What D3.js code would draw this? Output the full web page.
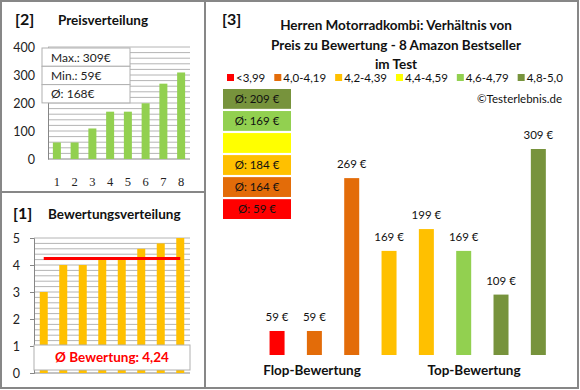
<!DOCTYPE html>
<html>
<head>
<meta charset="utf-8">
<script src="https://cdn.jsdelivr.net/npm/d3@7"></script>
<style>
  body { margin: 0; background: #fff; }
  svg { display: block; font-family: Lato, 'Noto Sans', sans-serif; }
</style>
</head>
<body>
<div id="chart"></div>
<script>
// --- data ---
const ranks = [1, 2, 3, 4, 5, 6, 7, 8]
const sortedPrices = [59, 59, 109, 169, 169, 199, 269, 309]
const priceTicks = [0, 100, 200, 300, 400]
const priceStats = ['Max.: 309€', 'Min.: 59€', 'Ø: 168€']
const ratings = [3.0, 4.0, 4.0, 4.2, 4.2, 4.6, 4.8, 5.0]
const ratingTicks = [0, 1, 2, 3, 4, 5]
const avgRating = 4.24
const avgRatingLabel = 'Ø Bewertung: 4,24'
const titleLines = ['Herren Motorradkombi: Verhältnis von', 'Preis zu Bewertung - 8 Amazon Bestseller', 'im Test']
const classLabels = ['<3,99', '4,0-4,19', '4,2-4,39', '4,4-4,59', '4,6-4,79', '4,8-5,0']
const classColors = ['#ff0000', '#e36c09', '#ffc000', '#ffff00', '#92d050', '#77933c']
const classAvgPrices = [59, 164, 184, null, 169, 209]
const productPrices = [59, 59, 269, 169, 199, 169, 109, 309]
const productClass = [0, 1, 1, 2, 2, 4, 5, 5]

const W = 580
const H = 390
const svg = d3.select('#chart').append('svg')
  .attr('width', W)
  .attr('height', H)

// frames
const frameColor = '#878787'
svg.append('rect')
  .attr('x', 1).attr('y', 1).attr('width', 577).attr('height', 387)
  .attr('fill', 'none').attr('stroke', frameColor).attr('stroke-width', 2)
svg.append('line')
  .attr('x1', 205).attr('x2', 205).attr('y1', 1).attr('y2', 388)
  .attr('stroke', frameColor).attr('stroke-width', 2)
svg.append('line')
  .attr('x1', 1).attr('x2', 205).attr('y1', 192).attr('y2', 192)
  .attr('stroke', frameColor).attr('stroke-width', 2)

const gridColor = '#b4b4b4'
const axisColor = '#868686'

// ---------- [2] Preisverteilung ----------
const p2 = svg.append('g')
p2.append('text').attr('x', 15).attr('y', 25)
  .attr('font-size', 16).attr('font-weight', 'bold').attr('fill', '#111').text('[2]')
p2.append('text').attr('x', 58).attr('y', 25)
  .attr('font-size', 13.5).attr('font-weight', 'bold').attr('fill', '#111').text('Preisverteilung')

const x2 = d3.scalePoint().domain(ranks).range([48, 190]).padding(0.5)
const y2 = d3.scaleLinear().domain([0, 400]).range([159, 47])

p2.append('g').selectAll('line')
  .data(d3.range(20, 401, 20))
  .join('line')
  .attr('x1', 48).attr('x2', 190)
  .attr('y1', d => y2(d)).attr('y2', d => y2(d))
  .attr('stroke', gridColor)

const ax2 = p2.append('g')
  .attr('transform', 'translate(48,0)')
  .call(d3.axisLeft(y2).tickValues(priceTicks).tickSize(0).tickPadding(13))
ax2.select('.domain').attr('stroke', axisColor)
ax2.selectAll('text').attr('font-size', 12.5).attr('fill', '#222').attr('font-family', 'Lato, sans-serif')

p2.append('line')
  .attr('x1', 48).attr('x2', 190).attr('y1', y2(0)).attr('y2', y2(0))
  .attr('stroke', axisColor)

p2.append('g').selectAll('rect')
  .data(sortedPrices)
  .join('rect')
  .attr('x', (d, i) => x2(ranks[i]) - 4)
  .attr('y', d => y2(d))
  .attr('width', 8)
  .attr('height', d => y2(0) - y2(d))
  .attr('fill', '#92d050')

p2.append('g').selectAll('text')
  .data(ranks)
  .join('text')
  .attr('x', d => x2(d))
  .attr('y', 186)
  .attr('text-anchor', 'middle')
  .attr('font-family', "'Liberation Serif', 'DejaVu Serif', serif")
  .attr('font-size', 12.5)
  .attr('fill', '#222')
  .text(d => d)

const stats = p2.append('g').attr('transform', 'translate(42,48)')
stats.selectAll('rect')
  .data(priceStats)
  .join('rect')
  .attr('x', 0).attr('y', (d, i) => i * 18.3)
  .attr('width', 88).attr('height', 18.3)
  .attr('fill', '#fff').attr('stroke', '#b0b0b0')
stats.selectAll('text')
  .data(priceStats)
  .join('text')
  .attr('x', 9).attr('y', (d, i) => i * 18.3 + 13.5)
  .attr('font-size', 12).attr('fill', '#222')
  .text(d => d)

// ---------- [1] Bewertungsverteilung ----------
const p1 = svg.append('g')
p1.append('text').attr('x', 13).attr('y', 219)
  .attr('font-size', 16).attr('font-weight', 'bold').attr('fill', '#111').text('[1]')
p1.append('text').attr('x', 48).attr('y', 219)
  .attr('font-size', 13.5).attr('font-weight', 'bold').attr('fill', '#111').text('Bewertungsverteilung')

const x1 = d3.scalePoint().domain(ranks).range([34, 190]).padding(0.5)
const y1 = d3.scaleLinear().domain([0, 5]).range([373, 238])

p1.append('g').selectAll('line')
  .data(d3.range(1, 26).map(d => d / 5))
  .join('line')
  .attr('x1', 34).attr('x2', 190)
  .attr('y1', d => y1(d)).attr('y2', d => y1(d))
  .attr('stroke', gridColor)

const ax1 = p1.append('g')
  .attr('transform', 'translate(34,0)')
  .call(d3.axisLeft(y1).tickValues(ratingTicks).tickFormat(d3.format('d')).tickSize(4).tickPadding(10))
ax1.selectAll('.domain, line').attr('stroke', axisColor)
ax1.selectAll('text').attr('font-size', 12.5).attr('fill', '#222').attr('font-family', 'Lato, sans-serif')

p1.append('line')
  .attr('x1', 34).attr('x2', 190).attr('y1', y1(0)).attr('y2', y1(0))
  .attr('stroke', axisColor)

p1.append('g').selectAll('rect')
  .data(ratings)
  .join('rect')
  .attr('x', (d, i) => x1(ranks[i]) - 4)
  .attr('y', d => y1(d))
  .attr('width', 8)
  .attr('height', d => y1(0) - y1(d))
  .attr('fill', '#ffc000')

p1.append('line')
  .attr('x1', x1(ranks[0])).attr('x2', x1(ranks[ranks.length - 1]))
  .attr('y1', y1(avgRating)).attr('y2', y1(avgRating))
  .attr('stroke', '#ff0000').attr('stroke-width', 3)

p1.append('rect')
  .attr('x', 34).attr('y', 345).attr('width', 156).attr('height', 25)
  .attr('fill', '#fff').attr('stroke', '#b0b0b0')
p1.append('text')
  .attr('x', 112).attr('y', 362)
  .attr('text-anchor', 'middle')
  .attr('font-size', 13.5).attr('font-weight', 'bold').attr('fill', '#ff0000')
  .text(avgRatingLabel)

// ---------- [3] Preis zu Bewertung ----------
const p3 = svg.append('g')
p3.append('text').attr('x', 222).attr('y', 25)
  .attr('font-size', 16).attr('font-weight', 'bold').attr('fill', '#111').text('[3]')
p3.append('g').selectAll('text')
  .data(titleLines)
  .join('text')
  .attr('x', 396)
  .attr('y', (d, i) => 30 + i * 19.5)
  .attr('text-anchor', 'middle')
  .attr('font-size', 13.5).attr('font-weight', 'bold').attr('fill', '#111')
  .text(d => d)

// legend, laid out by text width
const legend = p3.append('g').attr('transform', 'translate(227,0)')
let lx = 0
classLabels.forEach((label, i) => {
  const item = legend.append('g').attr('transform', `translate(${lx},0)`)
  item.append('rect')
    .attr('x', 0).attr('y', 74).attr('width', 7).attr('height', 7)
    .attr('fill', classColors[i])
  const t = item.append('text')
    .attr('x', 9).attr('y', 81.5)
    .attr('font-size', 11.5).attr('fill', '#111')
    .text(label)
  lx += 9 + t.node().getComputedTextLength() + 9
})

p3.append('text')
  .attr('x', 562).attr('y', 103)
  .attr('text-anchor', 'end')
  .attr('font-size', 11.5).attr('fill', '#111')
  .text('©Testerlebnis.de')

// average price per rating class, best class on top
const boxOrder = d3.range(classLabels.length).reverse()
const yb = d3.scaleBand().domain(boxOrder).range([89, 219]).paddingInner(0.1)
const boxes = p3.append('g').selectAll('g')
  .data(boxOrder)
  .join('g')
boxes.append('rect')
  .attr('x', 223).attr('y', d => yb(d))
  .attr('width', 68).attr('height', yb.bandwidth())
  .attr('fill', d => classColors[d])
boxes.filter(d => classAvgPrices[d] !== null)
  .append('text')
  .attr('x', 257).attr('y', d => yb(d) + yb.bandwidth() / 2 + 4)
  .attr('text-anchor', 'middle')
  .attr('font-size', 11.5).attr('fill', '#111')
  .text(d => `Ø: ${classAvgPrices[d]} €`)

const x3 = d3.scalePoint().domain(d3.range(productPrices.length)).range([258.4, 557]).padding(0.5)
const y3 = d3.scaleLinear().domain([26, 309]).range([355, 149])

p3.append('g').selectAll('rect')
  .data(productPrices)
  .join('rect')
  .attr('x', (d, i) => x3(i) - 7.5)
  .attr('y', d => y3(d))
  .attr('width', 15)
  .attr('height', d => y3(26) - y3(d))
  .attr('fill', (d, i) => classColors[productClass[i]])

p3.append('g').selectAll('text')
  .data(productPrices)
  .join('text')
  .attr('x', (d, i) => x3(i))
  .attr('y', d => y3(d) - 10)
  .attr('text-anchor', 'middle')
  .attr('font-size', 11.5).attr('fill', '#111')
  .text(d => `${d} €`)

p3.append('text')
  .attr('x', 312).attr('y', 375)
  .attr('text-anchor', 'middle')
  .attr('font-size', 13.5).attr('font-weight', 'bold').attr('fill', '#111')
  .text('Flop-Bewertung')
p3.append('text')
  .attr('x', 474).attr('y', 375)
  .attr('text-anchor', 'middle')
  .attr('font-size', 13.5).attr('font-weight', 'bold').attr('fill', '#111')
  .text('Top-Bewertung')
</script>
</body>
</html>
